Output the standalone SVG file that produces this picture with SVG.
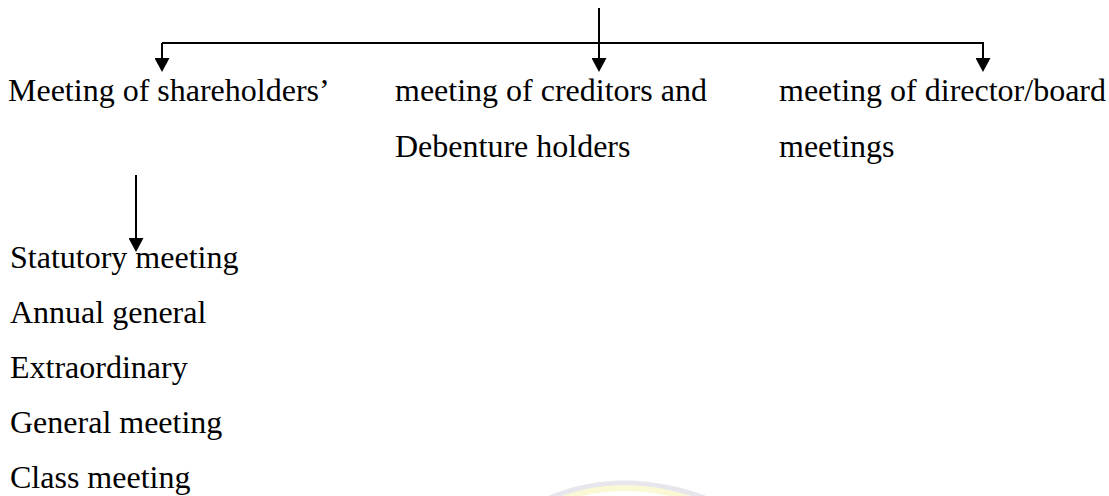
<svg xmlns="http://www.w3.org/2000/svg" width="1109" height="496" viewBox="0 0 1109 496">
<defs>
<style>
.t{font-family:"Liberation Serif","Times New Roman",serif;font-size:32px;fill:#000}
.c{fill:none;stroke:#000;stroke-width:2}
</style>
<marker id="ah" viewBox="0 0 14 15" markerWidth="14" markerHeight="15" refX="12" refY="7.5" orient="auto" markerUnits="userSpaceOnUse">
<path d="M0,0 L14,7.5 L0,15 z" fill="#000"/>
</marker>
</defs>
<rect width="1109" height="496" fill="#fff"/>
<g id="watermark">
<path d="M545,500 Q622,466 710,500" fill="none" stroke="#e6e6ec" stroke-width="5"/>
<path d="M552,503 Q622,473 702,503" fill="none" stroke="#fbf8d6" stroke-width="6"/>
</g>
<g id="connectors">
<path class="c" d="M599,8 V70" marker-end="url(#ah)"/>
<path class="c" d="M162,43 H983 V70" marker-end="url(#ah)"/>
<path class="c" d="M162,43 V70" marker-end="url(#ah)"/>
<path class="c" d="M136,175 V250" marker-end="url(#ah)"/>
</g>
<g id="node-shareholders"><text class="t" x="8" y="101">Meeting of shareholders’</text></g>
<g id="node-creditors"><text class="t" x="395" y="101">meeting of creditors and</text><text class="t" x="395" y="157">Debenture holders</text></g>
<g id="node-directors"><text class="t" x="779" y="101">meeting of director/board</text><text class="t" x="779" y="157">meetings</text></g>
<g id="node-types">
<text class="t" x="10" y="268">Statutory meeting</text>
<text class="t" x="10" y="323">Annual general</text>
<text class="t" x="10" y="378">Extraordinary</text>
<text class="t" x="10" y="433">General meeting</text>
<text class="t" x="10" y="488">Class meeting</text>
</g>
</svg>
